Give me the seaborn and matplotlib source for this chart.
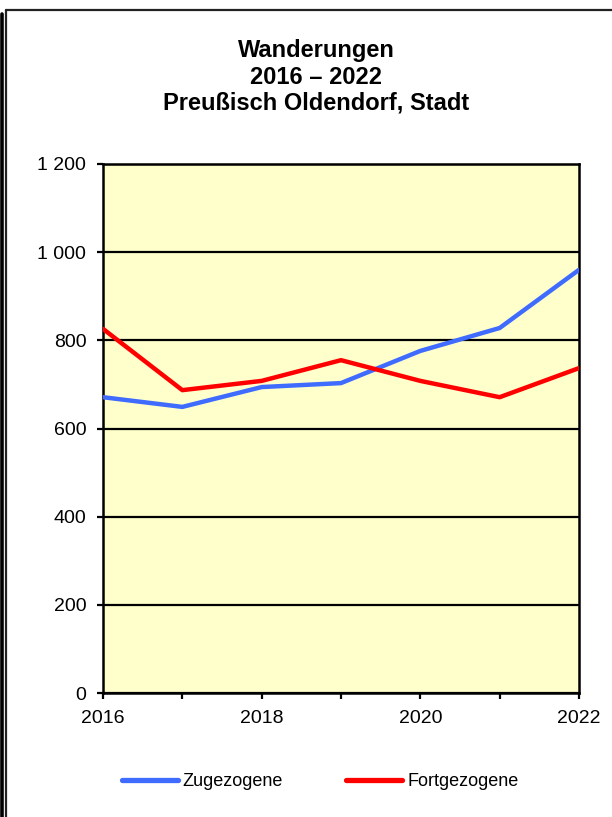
import matplotlib
matplotlib.use("Agg")
import matplotlib.pyplot as plt
import seaborn as sns
import pandas as pd
from matplotlib.lines import Line2D
from matplotlib.ticker import FuncFormatter, MultipleLocator

years = [2016, 2017, 2018, 2019, 2020, 2021, 2022]
zugezogene = [671, 649, 694, 703, 776, 828, 960]
fortgezogene = [826, 687, 708, 755, 708, 671, 737]
series_names = ["Zugezogene", "Fortgezogene"]
series_colors = ["#3F6BFF", "#FF0000"]
title_lines = ["Wanderungen", "2016 – 2022", "Preußisch Oldendorf, Stadt"]
y_ticks = [0, 200, 400, 600, 800, 1000, 1200]

sns.set_theme(style="white")
plt.rcParams['font.family'] = ['Liberation Sans', 'DejaVu Sans']
plt.rcParams['text.color'] = 'black'
plt.rcParams['axes.labelcolor'] = 'black'
plt.rcParams['xtick.color'] = 'black'
plt.rcParams['ytick.color'] = 'black'

df = pd.DataFrame({
    "Jahr": years * 2,
    "Wert": zugezogene + fortgezogene,
    "Reihe": [series_names[0]] * len(years) + [series_names[1]] * len(years),
})

W, H = 612, 817
fig = plt.figure(figsize=(W / 100, H / 100), dpi=100)
fig.patch.set_facecolor("white")
ax = fig.add_axes([103 / W, 1 - 693 / H, (579 - 103) / W, (693 - 164) / H])
ax.set_facecolor("#FFFFCC")

sns.lineplot(data=df, x="Jahr", y="Wert", hue="Reihe", palette=series_colors,
             hue_order=series_names, linewidth=3.2, ax=ax, legend=False, zorder=3)

ax.set_xlim(2016, 2022)
ax.set_ylim(0, 1200)
ax.set_yticks(y_ticks)
ax.yaxis.set_major_formatter(FuncFormatter(lambda v, p: f"{int(v):,}".replace(",", " ")))
ax.xaxis.set_major_locator(MultipleLocator(2))
ax.xaxis.set_minor_locator(MultipleLocator(1))
ax.grid(axis="y", color="black", linewidth=1.6, zorder=1)
ax.set_axisbelow(True)
for s in ax.spines.values():
    s.set_color("black")
    s.set_linewidth(1.8)
ax.tick_params(axis="both", which="both", direction="out", color="black", width=1.6,
               length=4, labelsize=14, labelcolor="black",
               bottom=True, left=True, top=False, right=False)
ax.tick_params(axis="y", which="major", pad=8)
ax.tick_params(axis="x", which="major", pad=8)
ax.set_xlabel("")
ax.set_ylabel("")

fig.text(316 / W, 1 - 77 / H, "\n".join(title_lines), fontsize=17, fontweight="bold",
         ha="center", va="center", linespacing=1.18, color="black")

handles = [Line2D([0], [0], color=c, linewidth=3.8) for c in series_colors]
fig.legend(handles, series_names, loc="center", bbox_to_anchor=(320 / W, 1 - 782 / H),
           ncol=2, frameon=False, fontsize=13, handlelength=3.1, handletextpad=0.28,
           columnspacing=3.5)

# frame lines
fig.add_artist(Line2D([1.5 / W, 1.5 / W], [0, 1 - 14 / H], color="black", linewidth=2.6,
                      transform=fig.transFigure))
fig.add_artist(Line2D([6 / W, 6 / W], [0, 1 - 10 / H], color="#222222", linewidth=1.6,
                      transform=fig.transFigure))
fig.add_artist(Line2D([5.5 / W, 1], [1 - 10 / H, 1 - 10 / H], color="#222222", linewidth=1.6,
                      transform=fig.transFigure))

fig.savefig("out.png", dpi=100)
